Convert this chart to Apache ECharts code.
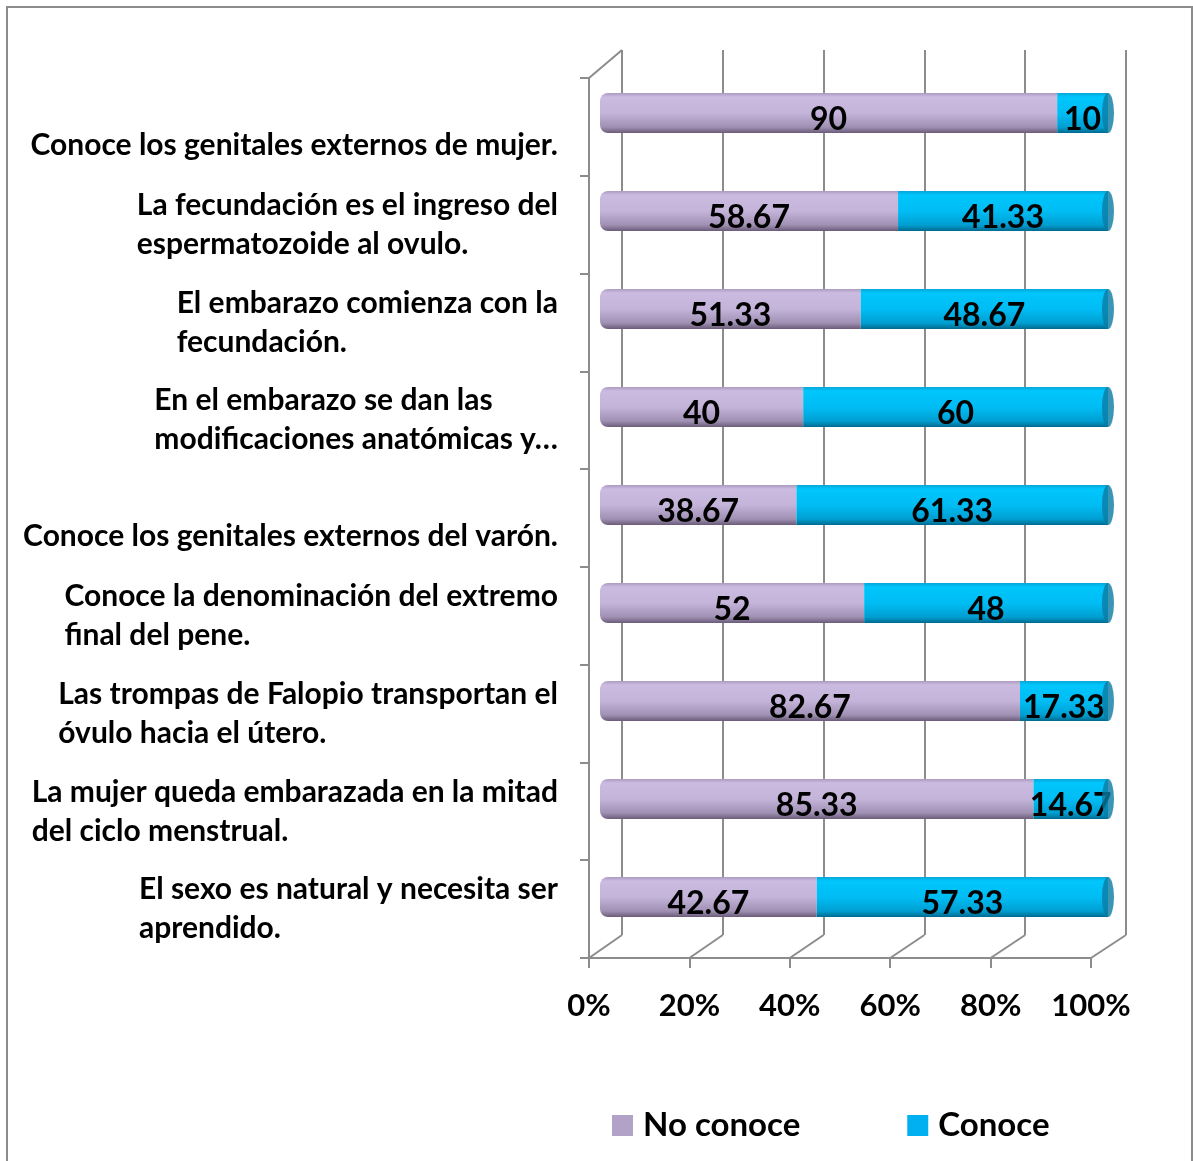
<!DOCTYPE html>
<html>
<head>
<meta charset="utf-8">
<script src="https://cdn.jsdelivr.net/npm/echarts@6/dist/echarts.min.js"></script>
<style>
  html, body { margin: 0; padding: 0; background: #fff; }
  #chart { position: absolute; left: 0; top: 0; width: 1193px; height: 1161px; }
  #frame {
    position: absolute; left: 6px; top: 6px; width: 1183px; height: 1200px;
    border: 2px solid #8c8c8c; border-bottom: none; pointer-events: none;
  }
</style>
</head>
<body>
<div id="chart"></div>
<div id="frame"></div>
<script>
const categories = [
  "Conoce los genitales externos de mujer.",
  "La fecundación es el ingreso del\nespermatozoide al ovulo.",
  "El embarazo comienza con la\nfecundación.",
  "En el embarazo se dan las\nmodificaciones anatómicas y…",
  "Conoce los genitales externos del varón.",
  "Conoce la denominación del extremo\nfinal del pene.",
  "Las trompas de Falopio transportan el\nóvulo hacia el útero.",
  "La mujer queda embarazada en la mitad\ndel ciclo menstrual.",
  "El sexo es natural y necesita ser\naprendido."
];
const noConoce = [90, 58.67, 51.33, 40, 38.67, 52, 82.67, 85.33, 42.67];
const conoce = [10, 41.33, 48.67, 60, 61.33, 48, 17.33, 14.67, 57.33];
const seriesNames = ["No conoce", "Conoce"];

const FONT = "Lato, 'Open Sans', sans-serif";
const GRAY = "#8c8c8c";

const chart = echarts.init(document.getElementById("chart"));

// cylinder look
const purple = new echarts.graphic.LinearGradient(0, 0, 0, 1, [
  { offset: 0, color: "#ab9bbf" },
  { offset: 0.1, color: "#cbbbe0" },
  { offset: 0.5, color: "#c5b4da" },
  { offset: 0.85, color: "#a090b3" },
  { offset: 1, color: "#6a5c78" },
]);
const blue = new echarts.graphic.LinearGradient(0, 0, 0, 1, [
  { offset: 0, color: "#08a6da" },
  { offset: 0.1, color: "#00c6fb" },
  { offset: 0.5, color: "#00bdf4" },
  { offset: 0.85, color: "#009fd2" },
  { offset: 1, color: "#006a8e" },
]);

const dataLabel = {
  show: true,
  position: "inside",
  offset: [0, 7],
  color: "#000",
  fontFamily: FONT,
  fontWeight: "bold",
  fontSize: 32,
};

const option = {
  animation: false,
  grid: [
    // back wall
    { left: 622, top: 50, width: 504, height: 885 },
    // front floor / left wall
    { left: 589, top: 78, width: 502, height: 880 },
    // bars (mid depth)
    { left: 600, top: 64, width: 508, height: 882 },
  ],
  xAxis: [
    {
      gridIndex: 0, type: "value", min: 0, max: 100, interval: 20,
      axisLine: { show: false }, axisTick: { show: false }, axisLabel: { show: false },
      splitLine: { show: true, lineStyle: { color: GRAY, width: 2 } },
    },
    {
      gridIndex: 1, type: "value", min: 0, max: 100, interval: 20,
      axisLine: { show: true, lineStyle: { color: GRAY, width: 2 } },
      axisTick: { show: true, length: 10, lineStyle: { color: GRAY, width: 2 } },
      splitLine: { show: false },
      axisLabel: {
        formatter: "{value}%", margin: 32, color: "#000",
        fontFamily: FONT, fontWeight: "bold", fontSize: 31,
      },
    },
    {
      gridIndex: 2, type: "value", min: 0, max: 100, show: false,
    },
  ],
  yAxis: [
    {
      gridIndex: 0, type: "category", data: categories, inverse: true, show: false,
    },
    {
      gridIndex: 1, type: "category", data: categories, inverse: true,
      axisLine: { show: true, lineStyle: { color: GRAY, width: 2 } },
      axisTick: { show: true, length: 9, lineStyle: { color: GRAY, width: 2 } },
      splitLine: { show: false },
      axisLabel: {
        margin: 31,
        formatter: (v) => {
          const lines = v.split("\n");
          if (lines.length === 1) return "{e| }\n{l|" + v + "}";
          return lines.map((l) => "{l|" + l + "}").join("\n");
        },
        rich: {
          l: {
            align: "left", color: "#000", fontFamily: FONT,
            fontWeight: "bold", fontSize: 30, lineHeight: 39,
          },
          e: { fontSize: 10, lineHeight: 36 },
        },
      },
    },
    {
      gridIndex: 2, type: "category", data: categories, inverse: true, show: false,
    },
  ],
  legend: {
    left: 612, top: 1109, padding: 0,
    itemWidth: 21, itemHeight: 21, itemGap: 107,
    icon: "rect",
    textStyle: { color: "#000", fontFamily: FONT, fontWeight: "bold", fontSize: 33, padding: [0, 0, 0, 5] },
    data: [
      { name: seriesNames[0], itemStyle: { color: "#b3a2c7" } },
      { name: seriesNames[1], itemStyle: { color: "#00b0f0" } },
    ],
  },
  series: [
    {
      name: seriesNames[0], type: "bar", stack: "total",
      xAxisIndex: 2, yAxisIndex: 2, barWidth: 40,
      data: noConoce,
      itemStyle: { color: purple, borderRadius: [8, 0, 0, 8] },
      label: dataLabel,
    },
    {
      name: seriesNames[1], type: "bar", stack: "total",
      xAxisIndex: 2, yAxisIndex: 2, barWidth: 40,
      data: conoce,
      itemStyle: { color: blue },
      label: dataLabel,
    },
    {
      // right end cap of the cylinders
      name: "cap", type: "scatter", xAxisIndex: 2, yAxisIndex: 2,
      symbol: "circle", symbolSize: [12, 40], z: 3,
      itemStyle: { color: "#0a7ca4" },
      data: categories.map((c, i) => [noConoce[i] + conoce[i], c]),
      silent: true,
    },
  ],
};

chart.setOption(option);

// 3D frame: diagonals joining the front floor to the back wall
const backRect = chart.getModel().getComponent("grid", 0).coordinateSystem.getRect();
const frontRect = chart.getModel().getComponent("grid", 1).coordinateSystem.getRect();
const lines = [];
for (let v = 0; v <= 100; v += 20) {
  const fx = chart.convertToPixel({ xAxisIndex: 1 }, v);
  const bx = chart.convertToPixel({ xAxisIndex: 0 }, v);
  lines.push({
    type: "line", silent: true,
    shape: { x1: fx, y1: frontRect.y + frontRect.height, x2: bx, y2: backRect.y + backRect.height },
    style: { stroke: GRAY, lineWidth: 2 },
  });
}
lines.push({
  type: "line", silent: true,
  shape: { x1: frontRect.x, y1: frontRect.y, x2: backRect.x, y2: backRect.y },
  style: { stroke: GRAY, lineWidth: 2 },
});
chart.setOption({ graphic: lines });
</script>
</body>
</html>
